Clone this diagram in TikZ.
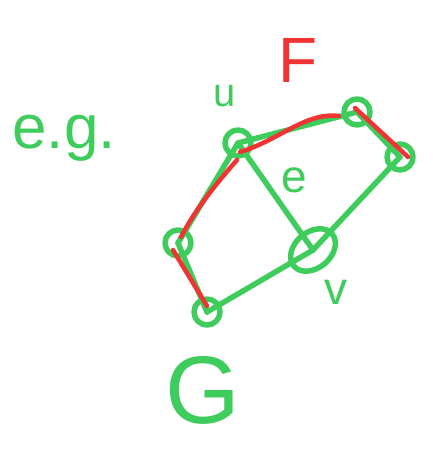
\documentclass[tikz,border=0pt]{standalone}
\usepackage{fontspec}
\setmainfont{Liberation Sans}
\usetikzlibrary{shapes.geometric}
\definecolor{pen}{RGB}{62,204,92}
\definecolor{ink}{RGB}{240,52,52}
\tikzset{
  g/.style={draw=pen,line width=5.5pt,line cap=round,line join=round},
  r/.style={draw=ink,line width=4.5pt,line cap=round},
  vtx/.style={circle,g,inner sep=0pt,minimum size=26pt},
  lbl/.style={text=pen,inner sep=0pt},
}
\begin{document}
\begin{tikzpicture}[x=1pt,y=-1pt]
\useasboundingbox (0,0) rectangle (432,454);
\node[vtx] (u) at (238,143) {};
\node[vtx] (a) at (357,112) {};
\node[vtx] (b) at (400,157) {};
\node[vtx] (c) at (178,243) {};
\node[vtx] (d) at (207,312) {};
\node[ellipse,g,inner sep=0pt,minimum width=50pt,minimum height=36pt,rotate=40] (v) at (313,250) {};
% green edges
\draw[g] (u.center) -- (a.center);
\draw[g] (a.center) -- (b.center);
\draw[g] (b.center) -- (v.center);
\draw[g] (u.center) -- (v.center);
\draw[g] (u.center) -- (c.center);
\draw[g] (c.center) -- (d.center);
\draw[g] (d.center) -- (v.center);
% red path F
\draw[r] ([shift={(2,9)}]u.center) .. controls (280,140) and (305,112) .. ([shift={(-18,4)}]a.center);
\draw[r] ([shift={(-2,-4)}]a.center) -- ([shift={(8,0)}]b.center);
\draw[r] ([shift={(-1,17)}]u.center) .. controls (215,185) and (195,210) .. ([shift={(3,-6)}]c.center);
\draw[r] ([shift={(-5,7)}]c.center) -- ([shift={(0,-6)}]d.center);
% labels
\node[lbl,font=\fontsize{40}{40}\selectfont] (lu) at (225,96) {u};
\node[text=ink,inner sep=0pt,font=\fontsize{64}{64}\selectfont] (lF) at (298,60) {F};
\node[lbl,font=\fontsize{46}{46}\selectfont] (le) at (294,180) {e};
\node[lbl,font=\fontsize{46}{46}\selectfont] (lv) at (336,292) {v};
\node[lbl,font=\fontsize{96}{96}\selectfont] (lG) at (203,390) {G};
\node[lbl,font=\fontsize{62}{62}\selectfont] (leg) at (64,138) {e.g.};
\end{tikzpicture}
\end{document}
